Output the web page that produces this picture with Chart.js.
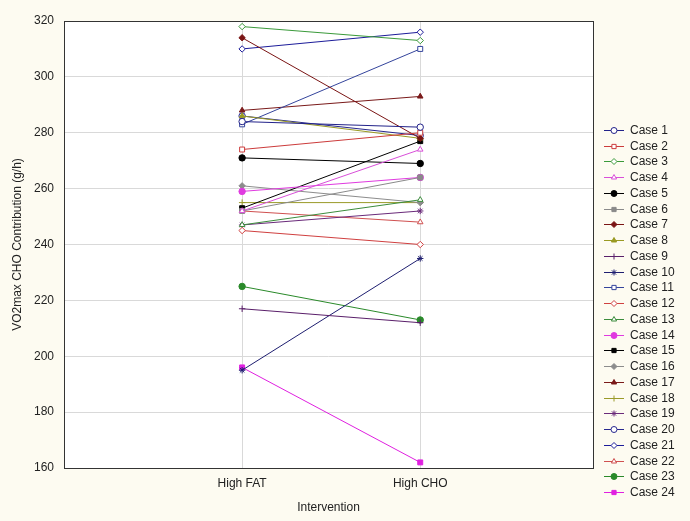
<!DOCTYPE html>
<html>
<head>
<meta charset="utf-8">
<script src="https://cdn.jsdelivr.net/npm/chart.js@4"></script>
<style>
  html, body { margin: 0; padding: 0; background: #fdfbf1; }
  #wrap { width: 690px; height: 521px; }
</style>
</head>
<body>
<div id="wrap"><canvas id="casesChart" width="690" height="521"></canvas></div>
<script>
// Intervention groups (x axis)
const interventions = ['High FAT', 'High CHO'];
const caseNames = ['Case 1', 'Case 2', 'Case 3', 'Case 4', 'Case 5', 'Case 6', 'Case 7', 'Case 8',
  'Case 9', 'Case 10', 'Case 11', 'Case 12', 'Case 13', 'Case 14', 'Case 15', 'Case 16',
  'Case 17', 'Case 18', 'Case 19', 'Case 20', 'Case 21', 'Case 22', 'Case 23', 'Case 24'];

// VO2max CHO contribution (g/h)
const highFat = [284, 274, 318, 252, 271, 252, 314, 286, 217, 195, 283, 245,
  247, 259, 253, 261, 288, 255, 247, 286, 310, 252, 225, 196];
const highCho = [282, 280, 313, 274, 269, 264, 278, 278, 212, 235, 310, 240,
  256, 264, 277, 255, 293, 255, 252, 279, 316, 248, 213, 162];

const yTicks = [160, 180, 200, 220, 240, 260, 280, 300, 320];

// marker style per case: [colour, point style, filled]
const markers = [
  ['#22228a', 'circle', false], ['#cc3b3b', 'rect', false], ['#3a9a3a', 'rectRot', false],
  ['#d94fd9', 'triangle', false], ['#000000', 'circle', true], ['#8a8a8a', 'rect', true],
  ['#7a1414', 'rectRot', true], ['#9a9a22', 'triangle', true], ['#5a1f6a', 'cross', true],
  ['#1e1e70', 'star', true], ['#34449c', 'rect', false], ['#d04040', 'rectRot', false],
  ['#3c8c3c', 'triangle', false], ['#e03ae0', 'circle', true], ['#000000', 'rect', true],
  ['#8c8c8c', 'rectRot', true], ['#7a1a1a', 'triangle', true], ['#9a9a28', 'cross', true],
  ['#6a2a7a', 'star', true], ['#28288e', 'circle', false], ['#1c1c9a', 'rectRot', false],
  ['#d05050', 'triangle', false], ['#2a8a2a', 'circle', true], ['#e020e0', 'rect', true]
];

const datasets = caseNames.map((name, i) => ({
  label: name,
  data: [{ x: 1, y: highFat[i] }, { x: 2, y: highCho[i] }],
  borderColor: markers[i][0],
  backgroundColor: markers[i][2] ? markers[i][0] : '#ffffff',
  pointStyle: markers[i][1],
  pointRadius: markers[i][1] === 'rect' ? 3.5 : 3.2,
  pointBorderWidth: 1,
  borderWidth: 1,
  tension: 0
}));

// cream page, white plot area and full frame
const framePlugin = {
  id: 'frame',
  beforeDraw(chart) {
    const { ctx, chartArea: a } = chart;
    ctx.save();
    ctx.fillStyle = '#fdfbf1';
    ctx.fillRect(0, 0, chart.width, chart.height);
    ctx.fillStyle = '#ffffff';
    ctx.fillRect(a.left, a.top, a.right - a.left, a.bottom - a.top);
    ctx.restore();
  },
  afterDatasetsDraw(chart) {
    const { ctx, chartArea: a } = chart;
    ctx.save();
    ctx.strokeStyle = '#333333';
    ctx.lineWidth = 1;
    ctx.strokeRect(a.left + 0.5, a.top + 0.5, a.right - a.left, a.bottom - a.top);
    ctx.restore();
  }
};

// legend: short line with the marker on it, then the case name
const lineLegend = {
  id: 'lineLegend',
  afterDraw(chart) {
    const ctx = chart.ctx;
    const x0 = 604, y0 = 130, step = 15.74;
    ctx.save();
    chart.data.datasets.forEach((ds, i) => {
      const y = Math.round(y0 + i * step) + 0.5;
      ctx.strokeStyle = ds.borderColor;
      ctx.lineWidth = 1;
      ctx.beginPath();
      ctx.moveTo(x0, y);
      ctx.lineTo(x0 + 20, y);
      ctx.stroke();
      ctx.fillStyle = ds.backgroundColor;
      Chart.helpers.drawPoint(ctx, { pointStyle: ds.pointStyle, rotation: 0, radius: 3, borderWidth: 1 }, x0 + 10, y);
      ctx.fillStyle = '#222222';
      ctx.font = '12px "Liberation Sans", Arial, sans-serif';
      ctx.textBaseline = 'middle';
      ctx.fillText(ds.label, x0 + 26, y);
    });
    ctx.restore();
  }
};

const ctx = document.getElementById('casesChart').getContext('2d');
const chart = new Chart(ctx, {
  type: 'line',
  data: { datasets: datasets },
  plugins: [framePlugin, lineLegend],
  options: {
    responsive: false,
    animation: false,
    layout: { padding: { top: 21, right: 97, bottom: 0, left: 0 } },
    plugins: { legend: { display: false }, tooltip: { enabled: false } },
    scales: {
      x: {
        type: 'linear',
        min: 0,
        max: 2.97,
        afterBuildTicks: scale => { scale.ticks = [{ value: 1 }, { value: 2 }]; },
        afterFit: scale => { scale.height = 53; },
        ticks: {
          callback: v => interventions[v - 1],
          color: '#222222',
          font: { family: '"Liberation Sans", Arial, sans-serif', size: 12 },
          padding: 8,
          maxRotation: 0
        },
        grid: { color: '#d9d9d9', drawTicks: false },
        border: { display: false },
        title: {
          display: true,
          text: 'Intervention',
          color: '#222222',
          font: { family: '"Liberation Sans", Arial, sans-serif', size: 12 },
          padding: { top: 0, bottom: 6 }
        }
      },
      y: {
        min: 160,
        max: 320,
        afterBuildTicks: scale => { scale.ticks = yTicks.map(v => ({ value: v })); },
        afterFit: scale => { scale.width = 64; },
        ticks: {
          color: '#222222',
          font: { family: '"Liberation Sans", Arial, sans-serif', size: 12 },
          padding: 10
        },
        grid: { color: '#d9d9d9', drawTicks: false },
        border: { display: false },
        title: {
          display: true,
          text: 'VO2max CHO Contribution (g/h)',
          color: '#222222',
          font: { family: '"Liberation Sans", Arial, sans-serif', size: 12 },
          padding: { top: 10, bottom: 0 }
        }
      }
    }
  }
});
</script>
</body>
</html>
